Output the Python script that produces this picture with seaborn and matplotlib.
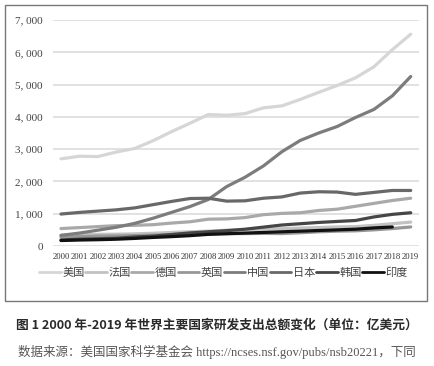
import pandas as pd
import matplotlib
matplotlib.use('Agg')
import matplotlib.pyplot as plt
import seaborn as sns
from matplotlib.patches import Rectangle

sns.set_style('white')
plt.rcParams['font.family'] = ['Liberation Serif', 'Noto Sans CJK SC', 'DejaVu Sans']

# 数据（亿美元）
years = [str(y) for y in range(2000, 2020)]
countries = ['美国', '法国', '德国', '英国', '中国', '日本', '韩国', '印度']
us = [2700, 2780, 2770, 2910, 3020, 3260, 3540, 3800, 4070, 4050,
      4100, 4280, 4340, 4540, 4760, 4970, 5210, 5550, 6080, 6560]
france = [330, 350, 360, 365, 375, 395, 420, 440, 460, 490,
          505, 525, 535, 555, 570, 590, 600, 640, 690, 740]
germany = [540, 570, 600, 630, 640, 660, 710, 750, 830, 840,
           880, 970, 1010, 1030, 1100, 1140, 1230, 1320, 1410, 1480]
uk = [275, 290, 305, 310, 320, 335, 355, 375, 380, 385,
      385, 390, 385, 410, 440, 460, 470, 500, 540, 590]
china = [330, 400, 490, 580, 700, 860, 1040, 1220, 1440, 1840,
         2130, 2480, 2920, 3270, 3500, 3700, 3980, 4230, 4650, 5250]
japan = [990, 1040, 1080, 1120, 1180, 1280, 1380, 1470, 1480, 1390,
         1400, 1480, 1520, 1640, 1680, 1670, 1600, 1660, 1720, 1720]
korea = [185, 210, 225, 240, 280, 305, 355, 405, 440, 475,
         520, 585, 650, 690, 730, 760, 790, 900, 980, 1030]
india = [170, 185, 195, 210, 235, 265, 290, 320, 360, 380,
         400, 420, 440, 460, 480, 500, 520, 560, 590]  # 到2018年
colors = ['#d6d6d6', '#c2c2c2', '#a9a9a9', '#979797', '#7c7c7c', '#686868', '#464646', '#111111']

series = [us, france, germany, uk, china, japan, korea, india]
rows = []
for name, vals in zip(countries, series):
    for y, v in zip(years, vals):
        rows.append({'year': y, 'value': v, 'country': name})
df = pd.DataFrame(rows)

fig = plt.figure(figsize=(4.34, 3.66), dpi=100)
ax = fig.add_axes([52.7 / 434, 120 / 366, 366.3 / 434, 226 / 366])

sns.lineplot(data=df, x='year', y='value', hue='country', hue_order=countries,
             palette=colors, linewidth=2.3, ax=ax, sort=False)

ax.set_ylim(0, 7000)
ax.set_xlim(-0.45, 19.45)
yt = list(range(0, 7001, 1000))
ax.set_yticks(yt)
ax.set_yticklabels([f'{v:,}'.replace(',', ', ') for v in yt], fontsize=8, color='#444444')
ax.set_xticks(range(len(years)))
ax.set_xticklabels(years, fontsize=6.2, color='#333333')
ax.tick_params(axis='y', length=0, pad=7)
ax.tick_params(axis='x', length=0, pad=5)
ax.yaxis.grid(True, color='#dcdcdc', linewidth=1.2)
ax.set_axisbelow(True)
for s in ax.spines.values():
    s.set_visible(False)
ax.set_xlabel('')
ax.set_ylabel('')

handles, labels = ax.get_legend_handles_labels()
leg = ax.legend(handles, labels, ncol=8, frameon=False, loc='center',
                bbox_to_anchor=(0.466, -0.12), handlelength=1.95,
                handletextpad=0.15, columnspacing=0.05, borderaxespad=0,
                prop={'family': ['Noto Sans CJK SC'], 'size': 8})
for t in leg.get_texts():
    t.set_color('#444444')
for h in leg.get_lines():
    h.set_linewidth(2.0)

fig.add_artist(Rectangle((5 / 434, 65 / 366), 422 / 434, 296 / 366,
                         transform=fig.transFigure, fill=False,
                         edgecolor='#777777', linewidth=1))

fig.text(0.5, 41 / 366, '图 1 2000 年-2019 年世界主要国家研发支出总额变化（单位：亿美元）',
         ha='center', va='center', fontsize=9.2, color='#2a2a2a',
         family=['Noto Sans CJK SC', 'DejaVu Sans'], weight='bold')
fig.text(0.5, 14 / 366, '数据来源：美国国家科学基金会 https://ncses.nsf.gov/pubs/nsb20221，下同',
         ha='center', va='center', fontsize=9, color='#555555',
         family=['Liberation Serif', 'Noto Sans CJK SC'])

fig.savefig('out.png', dpi=100)
